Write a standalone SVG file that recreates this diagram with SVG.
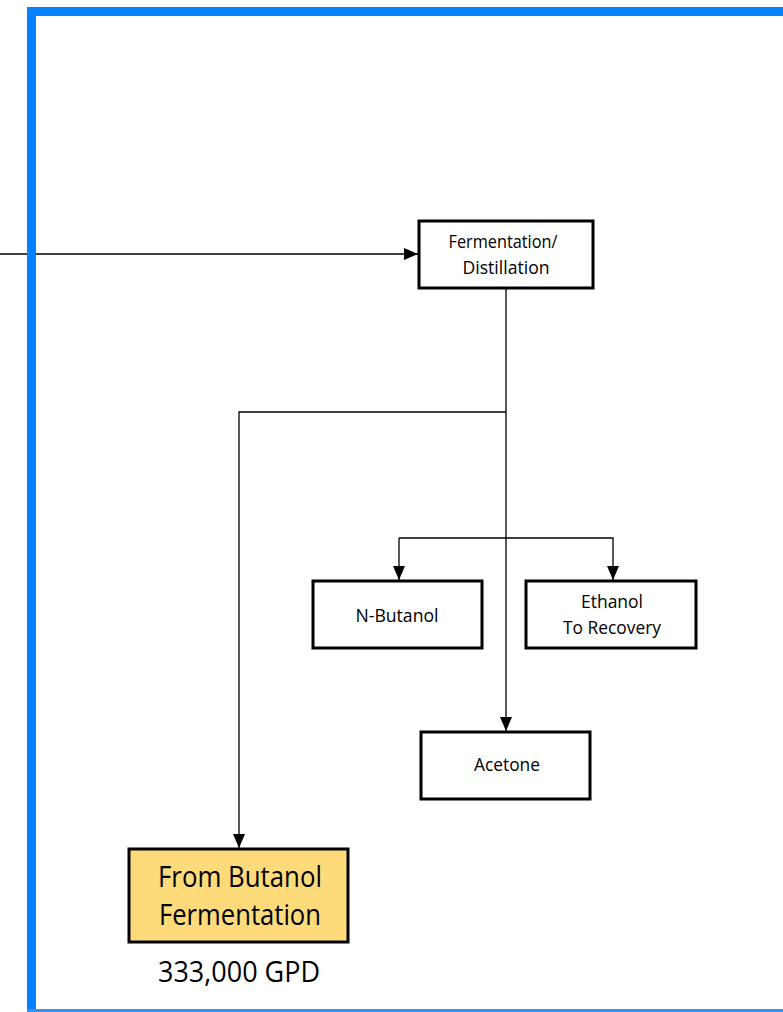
<svg xmlns="http://www.w3.org/2000/svg" width="783" height="1012" viewBox="0 0 783 1012">
<style>
.box{fill:#fff;stroke:#000;stroke-width:3}
.hl{fill:#FDDB7A;stroke:#000;stroke-width:3}
.t{font-family:"Open Sans","Liberation Sans",sans-serif;font-size:19px;fill:#000;text-anchor:middle}
.tb{font-family:"Open Sans","Liberation Sans",sans-serif;font-size:30px;fill:#000;text-anchor:middle}
.c{fill:none;stroke:#000;stroke-width:1.3}
</style>
<defs>
<marker id="a" viewBox="0 0 14 12" refX="14" refY="6" markerWidth="14" markerHeight="12" markerUnits="userSpaceOnUse" orient="auto">
<path d="M0,0L14,6L0,12z" fill="#000"/>
</marker>
</defs>
<rect width="783" height="1012" fill="#fff"/>
<g id="connectors">
<path class="c" d="M0,254H418" marker-end="url(#a)"/>
<path class="c" d="M506,289V731" marker-end="url(#a)"/>
<path class="c" d="M506,412H239V848" marker-end="url(#a)"/>
<path class="c" d="M399,538V580" marker-end="url(#a)"/>
<path class="c" d="M399,538H613V580" marker-end="url(#a)"/>
</g>
<g id="frame">
<rect x="27" y="7" width="756" height="9" fill="#0680FF"/>
<rect x="27" y="7" width="9" height="1005" fill="#0680FF"/>
<rect x="27" y="1009" width="756" height="3" fill="#3B8FF0"/>
</g>
<g id="fermentation">
<rect class="box" x="419" y="221" width="174" height="67"/>
<text class="t" x="503" y="248" textLength="109" lengthAdjust="spacingAndGlyphs">Fermentation/</text>
<text class="t" x="506" y="274" textLength="87" lengthAdjust="spacingAndGlyphs">Distillation</text>
</g>
<g id="nbutanol">
<rect class="box" x="313" y="581" width="169" height="67"/>
<text class="t" x="397" y="622" textLength="83" lengthAdjust="spacingAndGlyphs">N-Butanol</text>
</g>
<g id="ethanol">
<rect class="box" x="526" y="581" width="170" height="67"/>
<text class="t" x="612" y="608" textLength="62" lengthAdjust="spacingAndGlyphs">Ethanol</text>
<text class="t" x="612" y="634" textLength="98" lengthAdjust="spacingAndGlyphs">To Recovery</text>
</g>
<g id="acetone">
<rect class="box" x="421" y="732" width="169" height="67"/>
<text class="t" x="507" y="771" textLength="66" lengthAdjust="spacingAndGlyphs">Acetone</text>
</g>
<g id="butanol-fermentation">
<rect class="hl" x="129" y="849" width="219" height="93"/>
<text class="tb" x="240" y="887" textLength="164" lengthAdjust="spacingAndGlyphs">From Butanol</text>
<text class="tb" x="240" y="925" textLength="162" lengthAdjust="spacingAndGlyphs">Fermentation</text>
<text class="tb" x="239" y="982" textLength="162" lengthAdjust="spacingAndGlyphs">333,000 GPD</text>
</g>
</svg>
